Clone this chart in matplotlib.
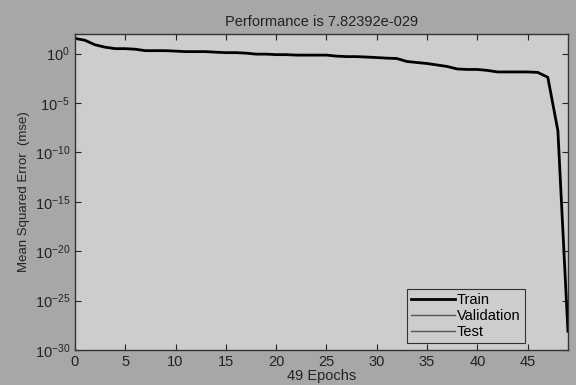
import matplotlib
matplotlib.use("Agg")
import matplotlib.pyplot as plt
from matplotlib.ticker import FixedLocator, NullLocator

epochs = list(range(50))
train_mse = [35.5, 22.4, 7.9, 4.5, 3.2, 3.2, 2.8, 2.0, 2.0, 2.0,
             1.8, 1.6, 1.6, 1.6, 1.4, 1.26, 1.26, 1.12, 0.89, 0.89,
             0.79, 0.79, 0.71, 0.71, 0.71, 0.71, 0.56, 0.5, 0.5, 0.45,
             0.4, 0.35, 0.32, 0.16, 0.126, 0.1, 0.071, 0.05, 0.028, 0.025,
             0.025, 0.02, 0.014, 0.014, 0.014, 0.014, 0.0126, 0.004, 1.6e-8, 7.82392e-29]
ytick_vals = [1e-30, 1e-25, 1e-20, 1e-15, 1e-10, 1e-5, 1e0]
ytick_labels = ["$10^{-30}$", "$10^{-25}$", "$10^{-20}$", "$10^{-15}$", "$10^{-10}$", "$10^{-5}$", "$10^{0}$"]
xticks = [0, 5, 10, 15, 20, 25, 30, 35, 40, 45]
title = "Performance is 7.82392e-029"
xlabel = "49 Epochs"
ylabel = "Mean Squared Error  (mse)"
legend_labels = ["Train", "Validation", "Test"]

plt.rcParams['font.family'] = ['Liberation Sans', 'DejaVu Sans']
plt.rcParams['mathtext.fontset'] = 'custom'
plt.rcParams['mathtext.rm'] = 'Liberation Sans'
plt.rcParams['mathtext.it'] = 'Liberation Sans'

fig = plt.figure(figsize=(5.76, 3.85), dpi=100, facecolor='#a7a7a7')
ax = fig.add_axes([0.130, 0.091, 0.856, 0.821])
ax.set_facecolor('#cdcdcd')

l1, = ax.plot(epochs, train_mse, color='black', lw=2.0)
l2, = ax.plot([], [], color='#555555', lw=1.0)
l3, = ax.plot([], [], color='#555555', lw=1.0)

ax.set_yscale('log')
ax.set_xlim(0, 49)
ax.set_ylim(1e-30, 1e2)
ax.yaxis.set_major_locator(FixedLocator(ytick_vals))
ax.set_yticklabels(ytick_labels)
ax.yaxis.set_minor_locator(NullLocator())
ax.set_xticks(xticks)
ax.tick_params(direction='in', top=True, right=True, labelsize=10.5,
               colors='#222222', length=4, width=0.8)
for s in ax.spines.values():
    s.set_color('#333333')
    s.set_linewidth(1.0)

ax.set_title(title, fontsize=10.5, color='#222222', pad=6)
ax.set_xlabel(xlabel, fontsize=10.5, color='#222222', labelpad=0)
ax.set_ylabel(ylabel, fontsize=9.5, color='#222222', labelpad=3)

leg = ax.legend([l1, l2, l3], legend_labels, loc='lower right',
                bbox_to_anchor=(0.913, 0.022), fontsize=10.5,
                frameon=True, fancybox=False, handlelength=3.0,
                handletextpad=0.15, borderpad=0.3, labelspacing=0.12,
                borderaxespad=0)
leg.get_frame().set_facecolor('#cdcdcd')
leg.get_frame().set_edgecolor('#333333')
leg.get_frame().set_linewidth(0.8)
leg.get_frame().set_alpha(1)

fig.savefig('out.png', dpi=100, facecolor=fig.get_facecolor())
